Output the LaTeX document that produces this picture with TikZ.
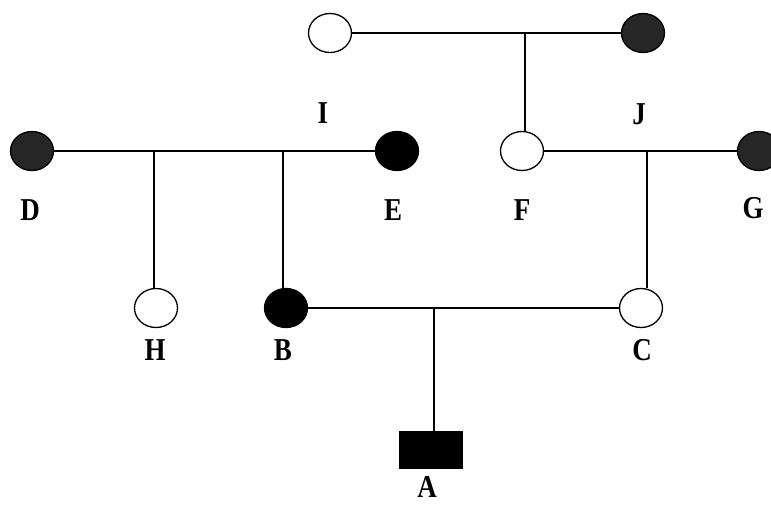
\documentclass[tikz,border=0pt]{standalone}
\usepackage{fontspec}
\setmainfont{Liberation Serif}
\usepackage{tikz}
\usetikzlibrary{positioning,shapes.geometric}

\begin{document}
\begin{tikzpicture}[x=1pt, y=1pt,
    female/.style={draw=black, line width=1.3pt, ellipse, inner sep=0pt, minimum width=43pt, minimum height=39pt, fill=white},
    affected/.style={fill=black},
    darkfill/.style={fill=black!85},
    male/.style={draw=black, fill=black, rectangle, inner sep=0pt, minimum width=63pt, minimum height=37pt},
    tag/.style={font=\fontsize{27}{27}\selectfont\bfseries, inner sep=0pt, yscale=1.18, transform shape},
    rel/.style={line width=1.1pt}]
    \useasboundingbox (0,0) rectangle (771,-504);

    % grandparents
    \node[female] (I) at (330,-33) {};
    \node[female, darkfill] (J) at (643,-33) {};

    % parents generation
    \node[female, darkfill] (D) at (32,-151) {};
    \node[female, affected] (E) at (397,-151) {};
    \node[female] (F) at (522,-151) {};
    \node[female, darkfill] (G) at (759,-151) {};

    % children
    \node[female] (H) at (156,-308) {};
    \node[female, affected] (B) at (286,-308) {};
    \node[female] (C) at (641,-308) {};

    \node[male] (A) at (430.5,-449.5) {};

    % drop points on the couple lines
    \coordinate (IJ) at (525,-33);
    \coordinate (DE1) at (154,-151);
    \coordinate (DE2) at (283,-151);
    \coordinate (FG) at (647,-151);
    \coordinate (BC) at (434,-308);

    \path[draw, rel]
        (I) -- (J)
        (D) -- (E)
        (F) -- (G)
        (B) -- (C)
        (IJ) -- (IJ |- F.north)
        (DE1) -- (DE1 |- H.north)
        (DE2) -- (DE2 |- B.north)
        (FG) -- (FG |- C.north)
        (BC) -- (BC |- A.north)
        ;

    % letters
    \node[tag] (Ilab) at (323,-113) {I};
    \node[tag] (Jlab) at (639,-114) {J};
    \node[tag] (Dlab) at (30,-210) {D};
    \node[tag] (Elab) at (393,-210) {E};
    \node[tag] (Flab) at (522,-210) {F};
    \node[tag] (Glab) at (753,-208) {G};
    \node[tag] (Hlab) at (155,-350) {H};
    \node[tag] (Blab) at (283,-350) {B};
    \node[tag] (Clab) at (642,-350) {C};
    \node[tag] (Alab) at (427,-487) {A};
\end{tikzpicture}
\end{document}
